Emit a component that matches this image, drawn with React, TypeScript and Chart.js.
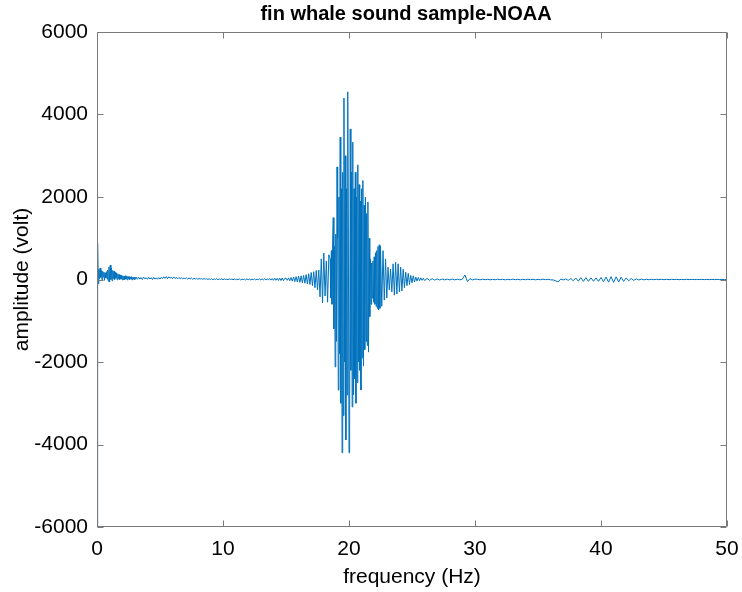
import React, { useEffect, useRef } from "react";
import { Chart, registerables } from "chart.js";

Chart.register(...registerables);

const TITLE = "fin whale sound sample-NOAA";
const X_LABEL = "frequency (Hz)";
const Y_LABEL = "amplitude (volt)";
const X_TICKS = [0, 10, 20, 30, 40, 50];
const Y_TICKS = [-6000, -4000, -2000, 0, 2000, 4000, 6000];

// amplitude samples, grouped by frequency segment
// segment A: 0 .. 2.95 Hz, every 0.05 Hz
const SEG_A_START = 0;
const SEG_A_STEP = 0.05;
const segA = [
  -6000, 880, -100, 250, 20, 280, 50, 220, -30, 200, 60, 180, -20, 160, 40, 190, 10, 230, -40, 300,
  -60, 350, 0, 280, -30, 220, 20, 200, 0, 170, 30, 150, -10, 140, 20, 120, 0, 110, 10, 100,
  -10, 90, -5, 80, 0, 90, 10, 70, -10, 80, 10, 70, 0, 60, 10, 70, -10, 60, 10, 50,
];
// segment B: 3.0 .. 14.9 Hz, every 0.1 Hz
const SEG_B_START = 3.0;
const SEG_B_STEP = 0.1;
const segB = [
  0, 60, 5, 55, 10, 50, 0, 55, 15, 45, 5, 50, 10, 45, 0, 50, 10, 40, 5, 45,
  10, 55, 20, 65, 25, 70, 20, 65, 30, 60, 20, 60, 25, 55, 15, 50, 20, 45, 10, 40,
  15, 40, 10, 35, 15, 35, 5, 30, 10, 30, 5, 25, 10, 25, 0, 25, 5, 20, 0, 20,
  0, 20, -5, 15, 0, 20, -5, 15, 0, 15, -5, 15, 0, 10, -5, 15, 0, 10, -5, 10,
  -5, 10, -5, 15, -10, 10, -5, 10, -10, 15, -5, 10, -10, 10, -5, 15, -10, 10, -5, 15,
  -10, 15, -10, 20, -15, 20, -10, 25, -15, 25, -20, 30, -20, 30, -25, 35, -25, 35, -30, 30,
];
// segment C: 15.0 .. 18.4 Hz, every 0.1 Hz
const SEG_C_START = 15.0;
const SEG_C_STEP = 0.1;
const segC = [
  30, -20, 40, -30, 50, -40, 60, -50, 70, -60, 80, -70, 90, -80, 100, -90, 120, -110, 140, -120,
  170, -150, 190, -200, 220, -250, 230, -420, 500, -570, 640, -400, 450, -550, 600,
];
// segment D: 18.5 .. 22.45 Hz, every 0.05 Hz (main burst)
const SEG_D_START = 18.5;
const SEG_D_STEP = 0.05;
const segD = [
  500, -450, 700, -600, 900, 1500, -1200, 800, -2120, 1100,
  -1500, 2730, 1000, -2680, 2000, -1800, 3450, -3000, 2200, -4200,
  2600, -3300, 4400, -2000, 3000, -3890, 2200, -2800, 4550, 1200,
  -4200, -3500, 3650, -2200, 2600, -3090, 3330, -2800, 2200, -2400,
  2600, -3000, 2000, -2500, 2780, -2000, 2300, -2200, 1900, -2680,
  2200, -1900, 2400, -2100, 1800, -1700, 2000, -1500, 1600, -1600,
  1880, -1760, 1000, -900, 500, -600, 400, -450, 450, -550,
  550, -600, 650, -650, 700, -700, 800, -740, 840, -700,
];
// segment E: 22.5 .. 25.9 Hz, every 0.1 Hz
const SEG_E_START = 22.5;
const SEG_E_STEP = 0.1;
const segE = [
  800, -650, 700, -500, 500, -450, 300, -250, 250, -300, 380, -380, 420, -350, 380, -300, 300, -280, 250, -200,
  180, -150, 150, -120, 100, -80, 90, -60, 60, -40, 50, -30, 40, -20, 30,
];
// segment F: 26.0 .. 50.0 Hz, every 0.2 Hz
const SEG_F_START = 26.0;
const SEG_F_STEP = 0.2;
const segF = [
  -25, 25, -20, 20, -15, 15, -12, 12, -10, 10, -10, 10, -8, 8, -8, 10, 110, -50, 20, -10, 10,
  5, -8, 8, -5, 6, -8, 5, -6, 8, -5, 6, -8, 5, -6, 8, -5, 6, -8, 5, -6, 8, -5, 6, -8, 5, -6, 8, -5, 6, -8,
  -10, -30, -60, 10, -10, 15, -20, 25, -30, 35, -40, 45, -45, 45, -45, 40, -40, 40, -45, 50,
  -55, 60, -65, 70, -70, 65, -60, 55, -45, 40, -30, 25, -20, 15, -12,
  10, -8, 6, -6, 5, -5, 6, -4, 5, -5, 4, -4, 5, -3, 4, -4, 3, -3, 4, -3, 3, -3, 3, -2, 3, -3, 2, -2, 3, -2, 2, -2, 2, -2, 1,
];

const SEGMENTS = [
  { start: SEG_A_START, step: SEG_A_STEP, values: segA },
  { start: SEG_B_START, step: SEG_B_STEP, values: segB },
  { start: SEG_C_START, step: SEG_C_STEP, values: segC },
  { start: SEG_D_START, step: SEG_D_STEP, values: segD },
  { start: SEG_E_START, step: SEG_E_STEP, values: segE },
  { start: SEG_F_START, step: SEG_F_STEP, values: segF },
];

const W = 742;
const H = 592;
const FONT = "'Liberation Sans', Arial, Helvetica, sans-serif";
const AXIS_COLOR = "#7a7a7a";

const framePlugin = {
  id: "matlabFrame",
  afterDraw(chart: any) {
    const { ctx, chartArea } = chart;
    const xs = chart.scales.x;
    const ys = chart.scales.y;
    const l = Math.round(chartArea.left) + 0.5;
    const r = Math.round(chartArea.right) - 0.5;
    const t = Math.round(chartArea.top) + 0.5;
    const b = Math.round(chartArea.bottom) - 0.5;
    ctx.save();
    ctx.strokeStyle = AXIS_COLOR;
    ctx.lineWidth = 1;
    ctx.beginPath();
    ctx.rect(l, t, r - l, b - t);
    const tl = 6;
    X_TICKS.forEach((v) => {
      const px = Math.round(xs.getPixelForValue(v)) + 0.5;
      ctx.moveTo(px, b);
      ctx.lineTo(px, b - tl);
      ctx.moveTo(px, t);
      ctx.lineTo(px, t + tl);
    });
    Y_TICKS.forEach((v) => {
      const py = Math.round(ys.getPixelForValue(v)) + 0.5;
      ctx.moveTo(l, py);
      ctx.lineTo(l + tl, py);
      ctx.moveTo(r, py);
      ctx.lineTo(r - tl, py);
    });
    ctx.stroke();

    ctx.fillStyle = "#000";
    ctx.textAlign = "center";
    ctx.textBaseline = "middle";
    ctx.font = `bold 20px ${FONT}`;
    ctx.fillText(TITLE, (chartArea.left + chartArea.right) / 2 - 6, 14);
    ctx.font = `21px ${FONT}`;
    ctx.fillText(X_LABEL, (chartArea.left + chartArea.right) / 2, 577);
    ctx.translate(22, (chartArea.top + chartArea.bottom) / 2);
    ctx.rotate(-Math.PI / 2);
    ctx.fillText(Y_LABEL, 0, 0);
    ctx.restore();
  },
};

export default function App() {
  const ref = useRef<HTMLCanvasElement | null>(null);

  useEffect(() => {
    const points: { x: number; y: number }[] = [];
    SEGMENTS.forEach((seg) => {
      seg.values.forEach((v, i) => {
        points.push({ x: +(seg.start + i * seg.step).toFixed(4), y: v });
      });
    });

    const chart = new Chart(ref.current as HTMLCanvasElement, {
      type: "line",
      data: {
        datasets: [
          {
            data: points,
            borderColor: "#0072BD",
            borderWidth: 1,
            pointRadius: 0,
            tension: 0,
            fill: false,
          },
        ],
      },
      options: {
        responsive: false,
        animation: false,
        devicePixelRatio: 1,
        layout: { padding: { top: 32, right: 15, left: 0, bottom: 0 } },
        plugins: {
          legend: { display: false },
          title: { display: false },
          tooltip: { enabled: false },
        },
        scales: {
          x: {
            type: "linear",
            min: 0,
            max: 50,
            afterFit: (s: any) => {
              s.height = 65;
              s.paddingLeft = 0;
              s.paddingRight = 0;
            },
            afterBuildTicks: (s: any) => {
              s.ticks = X_TICKS.map((v) => ({ value: v }));
            },
            grid: { display: false, drawTicks: false },
            border: { display: false },
            ticks: {
              color: "#000",
              padding: 10,
              maxRotation: 0,
              font: { family: FONT, size: 21 },
            },
          },
          y: {
            type: "linear",
            min: -6000,
            max: 6000,
            afterFit: (s: any) => {
              s.width = 97;
              s.paddingTop = 0;
              s.paddingBottom = 0;
            },
            afterBuildTicks: (s: any) => {
              s.ticks = Y_TICKS.map((v) => ({ value: v }));
            },
            grid: { display: false, drawTicks: false },
            border: { display: false },
            ticks: {
              color: "#000",
              padding: 9,
              font: { family: FONT, size: 21 },
              callback: (v: any) => String(v),
            },
          },
        },
      },
      plugins: [framePlugin],
    });
    return () => chart.destroy();
  }, []);

  return (
    <div style={{ position: "fixed", left: 0, top: 0, width: W, height: H, background: "#fff" }}>
      <canvas ref={ref} width={W} height={H} style={{ width: W, height: H, display: "block" }} />
    </div>
  );
}
